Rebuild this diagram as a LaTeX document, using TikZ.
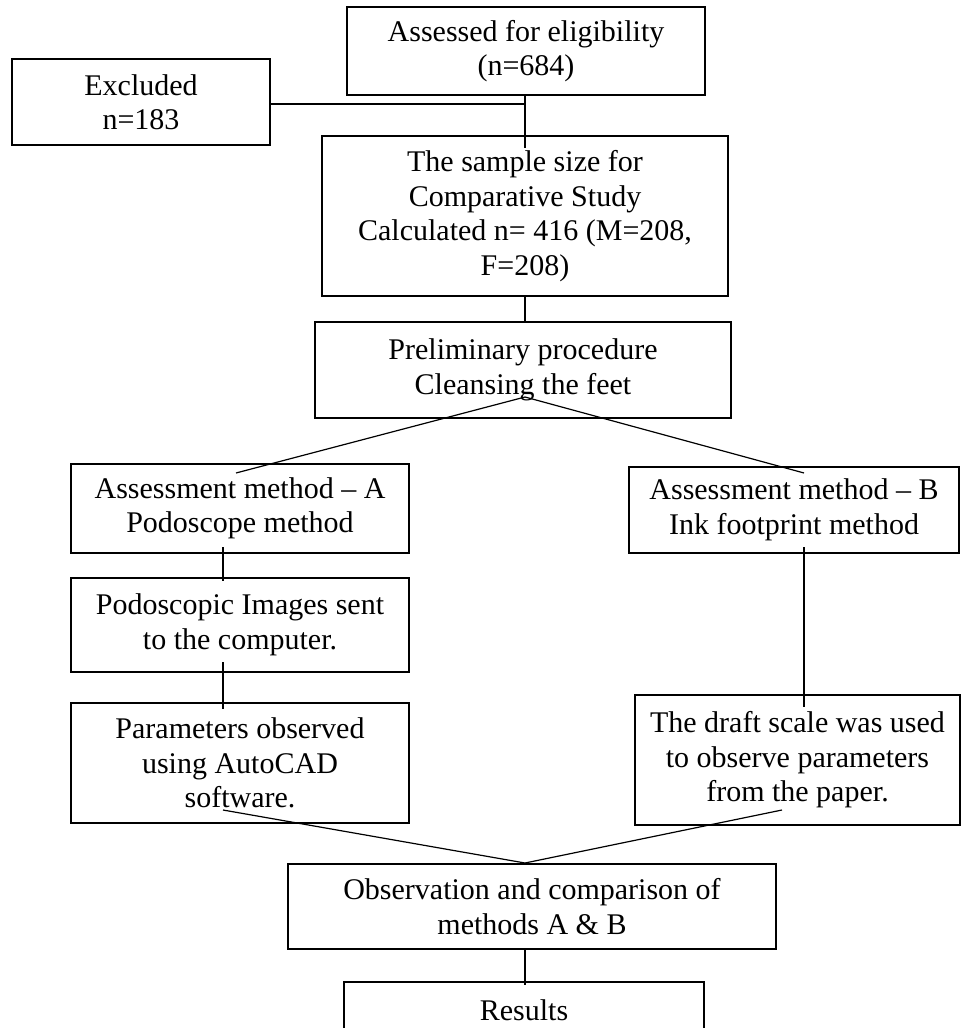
\documentclass[tikz,border=0pt]{standalone}
\usepackage{fontspec}
\setmainfont{Liberation Serif}
\begin{document}
\begin{tikzpicture}[x=1pt,y=-1pt,
  box/.style={draw=black, line width=1.3pt, inner sep=0pt, align=center,
    font=\fontsize{30}{34.5}\selectfont, text=black},
  conn/.style={draw=black, line width=1.2pt}]
\useasboundingbox (0,0) rectangle (962,1028);
\clip (0,0) rectangle (962,1028);
\fill[white] (0,0) rectangle (962,1028);
\node[box, minimum width=358pt, minimum height=88pt] (b1) at (526,51) {Assessed for eligibility\\(n=684)};
\node[box, minimum width=258pt, minimum height=86pt] (excl) at (141,102) {Excluded\\n=183};
\node[box, minimum width=406pt, minimum height=160pt] (b2) at (525,216) {The sample size for\\Comparative Study\\Calculated n= 416 (M=208,\\F=208)};
\node[box, minimum width=416pt, minimum height=96pt] (b3) at (523,370) {Preliminary procedure\\Cleansing the feet};
\node[box, minimum width=338pt, minimum height=89pt] (bA) at (240,508.5) {Assessment method -- A\\Podoscope method};
\node[box, minimum width=330pt, minimum height=86pt] (bB) at (794,510) {Assessment method -- B\\Ink footprint method};
\node[box, minimum width=338pt, minimum height=94pt] (pod) at (240,625) {Podoscopic Images sent\\to the computer.};
\node[box, minimum width=338pt, minimum height=120pt] (par) at (240,763) {Parameters observed\\using AutoCAD\\software.};
\node[box, minimum width=325pt, minimum height=130pt] (draft) at (797.5,760) {The draft scale was used\\to observe parameters\\from the paper.};
\node[box, minimum width=488pt, minimum height=85pt] (obs) at (532,906.5) {Observation and comparison of\\methods A \& B};
\node[box, minimum width=360pt, minimum height=56pt] (res) at (524,1010) {Results};
% coordinates
\coordinate (joinE) at (525,104);
\coordinate (b2in) at (525,148);
\coordinate (apex1) at (525,397);
\coordinate (aTop) at (236,473);
\coordinate (bTop) at (804,473);
\coordinate (aBot) at (223,547);
\coordinate (podTop) at (223,581);
\coordinate (podBot) at (223,662);
\coordinate (parTop) at (223,709);
\coordinate (bBot) at (804,547);
\coordinate (draftTop) at (804,707);
\coordinate (parIn) at (223,810);
\coordinate (draftIn) at (782,810);
\coordinate (apex2) at (525,863);
\coordinate (resTop) at (525,985);
% connectors
\draw[conn] (excl.east |- joinE) -- (joinE);
\draw[conn] (b1.south -| joinE) -- (b2in);
\draw[conn] (b2.south -| joinE) -- (b3.north -| joinE);
\draw[conn] (aTop) -- (apex1) -- (bTop);
\draw[conn] (aBot) -- (podTop);
\draw[conn] (podBot) -- (parTop);
\draw[conn] (bBot) -- (draftTop);
\draw[conn] (parIn) -- (apex2) -- (draftIn);
\draw[conn] (obs.south -| apex2) -- (resTop);
\end{tikzpicture}
\end{document}
